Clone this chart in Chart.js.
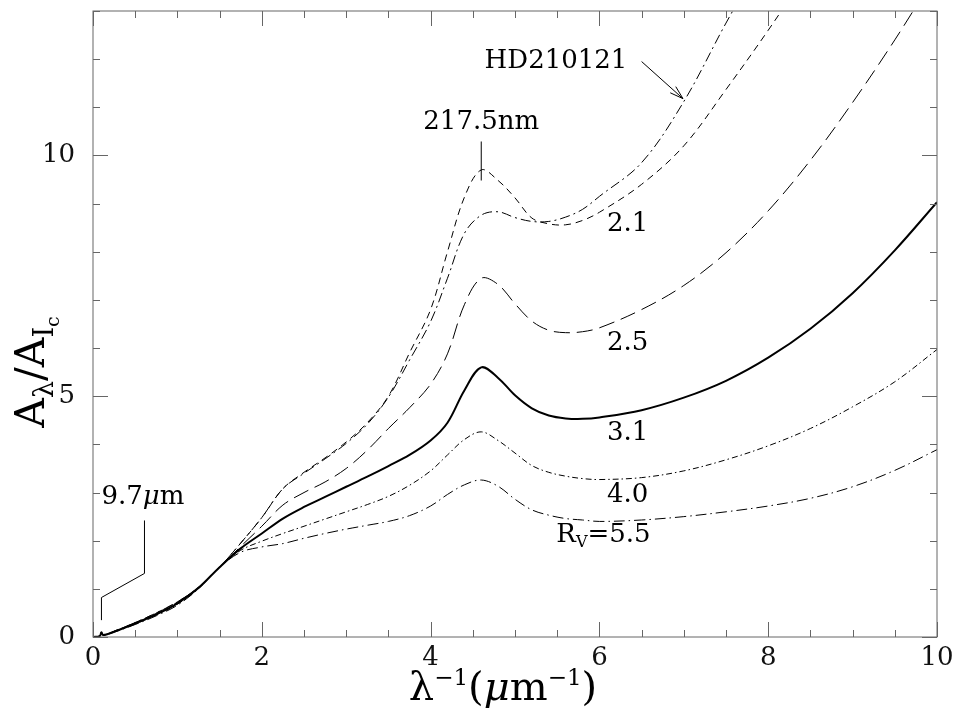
<!DOCTYPE html>
<html>
<head>
<meta charset="utf-8">
<script src="https://cdn.jsdelivr.net/npm/chart.js@4.4.0/dist/chart.umd.min.js"></script>
<style>
  html, body { margin: 0; padding: 0; background: #fff; }
</style>
</head>
<body>
<canvas id="extChart" width="960" height="718"></canvas>
<script>
// inverse wavelength, 1/um
const invLambda = [0, 0.08, 0.1, 0.12, 0.25, 0.5, 0.75, 1.0, 1.25, 1.5,
    1.75, 2.0, 2.25, 2.5, 2.75, 3.0, 3.25, 3.5, 3.75, 4.0,
    4.2, 4.4, 4.6, 4.8, 5.0, 5.2, 5.4, 5.6, 5.8, 6.0,
    6.5, 7.0, 7.5, 8.0, 8.5, 9.0, 9.5, 10.0];

// A_lambda / A_Ic
const rv21 = [0, 0.02, 0.10, 0.04, 0.12, 0.30, 0.50, 0.73, 1.03, 1.45,
    1.95, 2.48, 3.08, 3.42, 3.72, 4.05, 4.45, 5.00, 5.90, 6.80,
    8.00, 9.13, 9.70, 9.48, 9.12, 8.70, 8.58, 8.56, 8.65, 8.82,
    9.40, 10.20, 11.37, 12.60, 13.90, null, null, null];
const rv25 = [0, 0.02, 0.10, 0.04, 0.11, 0.29, 0.49, 0.72, 1.03, 1.45,
    1.88, 2.30, 2.74, 3.00, 3.22, 3.50, 3.88, 4.33, 4.76, 5.25,
    5.88, 6.90, 7.45, 7.32, 6.92, 6.56, 6.37, 6.32, 6.34, 6.42,
    6.80, 7.30, 7.98, 8.85, 9.90, 11.10, 12.40, 13.80];
const rv31 = [0, 0.02, 0.10, 0.04, 0.11, 0.28, 0.47, 0.70, 1.02, 1.45,
    1.84, 2.15, 2.46, 2.70, 2.91, 3.12, 3.33, 3.55, 3.78, 4.08,
    4.45, 5.12, 5.60, 5.38, 5.02, 4.75, 4.60, 4.54, 4.53, 4.56,
    4.71, 4.97, 5.32, 5.80, 6.40, 7.14, 8.03, 9.03];
const rv40 = [0, 0.02, 0.10, 0.04, 0.11, 0.27, 0.46, 0.68, 1.01, 1.45,
    1.80, 1.99, 2.15, 2.30, 2.45, 2.60, 2.75, 2.92, 3.15, 3.45,
    3.78, 4.10, 4.26, 4.08, 3.82, 3.56, 3.42, 3.34, 3.29, 3.27,
    3.31, 3.45, 3.68, 3.97, 4.33, 4.78, 5.30, 5.97];
const rv55 = [0, 0.02, 0.10, 0.04, 0.10, 0.26, 0.44, 0.66, 1.00, 1.45,
    1.76, 1.87, 1.94, 2.05, 2.15, 2.24, 2.32, 2.40, 2.52, 2.72,
    2.96, 3.16, 3.26, 3.13, 2.86, 2.64, 2.53, 2.46, 2.43, 2.40,
    2.43, 2.50, 2.60, 2.72, 2.88, 3.12, 3.46, 3.89];
const hd210121 = [0, 0.02, 0.10, 0.04, 0.12, 0.30, 0.50, 0.73, 1.03, 1.45,
    1.95, 2.48, 3.08, 3.40, 3.70, 4.02, 4.42, 4.98, 5.75, 6.55,
    7.45, 8.38, 8.76, 8.83, 8.71, 8.63, 8.63, 8.72, 8.88, 9.15,
    9.85, 11.12, 12.75, 14.30, null, null, null, null];

const xTickValues = [0, 2, 4, 6, 8, 10];
const yTickValues = [0, 5, 10];

const FONT = '"DejaVu Serif", serif';

function serie(data, dash, width) {
    return {
        data: invLambda.map((x, i) => ({ x: x, y: data[i] })),
        borderColor: '#000',
        borderWidth: width || 1,
        borderDash: dash,
        pointRadius: 0,
        fill: false,
        spanGaps: false,
        tension: 0.35
    };
}

// draw a run of text pieces: [text, size, dy, italic]
function drawParts(ctx, parts, x, y, align) {
    let w = 0;
    parts.forEach(p => {
        ctx.font = (p[3] ? 'italic ' : '') + p[1] + 'px ' + FONT;
        w += ctx.measureText(p[0]).width;
    });
    let cx = align === 'center' ? x - w / 2 : x;
    parts.forEach(p => {
        ctx.font = (p[3] ? 'italic ' : '') + p[1] + 'px ' + FONT;
        ctx.fillText(p[0], cx, y + p[2]);
        cx += ctx.measureText(p[0]).width;
    });
}

const decorPlugin = {
    id: 'decor',
    afterDraw(chart) {
        const ctx = chart.ctx;
        const { left, right, top, bottom } = chart.chartArea;
        const xs = chart.scales.x, ys = chart.scales.y;
        const X = v => xs.getPixelForValue(v);
        const Y = v => ys.getPixelForValue(v);

        ctx.save();
        // frame + inward ticks on all four sides
        ctx.strokeStyle = '#666';
        ctx.lineWidth = 1;
        ctx.strokeRect(left, top, right - left, bottom - top);
        ctx.beginPath();
        for (let i = 0; i <= 20; i++) {
            const px = Math.round(X(i * 0.5)) + 0.5;
            const len = i % 4 === 0 ? 15 : 7;
            ctx.moveTo(px, bottom); ctx.lineTo(px, bottom - len);
            ctx.moveTo(px, top); ctx.lineTo(px, top + len);
        }
        for (let j = 0; j <= 13; j++) {
            const py = Math.round(Y(j)) + 0.5;
            const len = j % 5 === 0 ? 15 : 7;
            ctx.moveTo(left, py); ctx.lineTo(left + len, py);
            ctx.moveTo(right, py); ctx.lineTo(right - len, py);
        }
        ctx.stroke();

        // pointer lines
        ctx.strokeStyle = '#000';
        ctx.beginPath();
        ctx.moveTo(X(4.6), Y(10.29)); ctx.lineTo(X(4.6), Y(9.48));
        ctx.moveTo(X(0.61), Y(2.42)); ctx.lineTo(X(0.61), Y(1.32));
        ctx.lineTo(X(0.10), Y(0.82)); ctx.lineTo(X(0.10), Y(0.35));
        // arrow to HD210121
        const ax0 = X(6.50), ay0 = Y(11.95), ax1 = X(6.99), ay1 = Y(11.18);
        ctx.moveTo(ax0, ay0); ctx.lineTo(ax1, ay1);
        const ang = Math.atan2(ay1 - ay0, ax1 - ax0);
        [0.3, -0.3].forEach(d => {
            ctx.moveTo(ax1, ay1);
            ctx.lineTo(ax1 - 14 * Math.cos(ang + d), ay1 - 14 * Math.sin(ang + d));
        });
        ctx.stroke();

        // labels
        ctx.fillStyle = '#000';
        ctx.textBaseline = 'middle';
        ctx.textAlign = 'left';
        drawParts(ctx, [['HD210121', 26, 0]], X(4.64), Y(11.95));
        drawParts(ctx, [['217.5nm', 26, 0]], X(4.6), Y(10.68), 'center');
        drawParts(ctx, [['2.1', 26, 0]], X(6.09), Y(8.57));
        drawParts(ctx, [['2.5', 26, 0]], X(6.09), Y(6.10));
        drawParts(ctx, [['3.1', 26, 0]], X(6.09), Y(4.23));
        drawParts(ctx, [['4.0', 26, 0]], X(6.09), Y(2.95));
        drawParts(ctx, [['R', 26, 0], ['V', 16, 8], ['=5.5', 26, 0]], X(5.49), Y(2.12));
        drawParts(ctx, [['9.7', 26, 0], ['μ', 26, 0, true], ['m', 26, 0]], X(0.1), Y(2.90));

        // axis titles
        ctx.textBaseline = 'alphabetic';
        drawParts(ctx, [['λ', 40, 0], ['−1', 23, -15], ['(', 40, 0], ['μ', 40, 0, true],
            ['m', 40, 0], ['−1', 23, -15], [')', 40, 0]], 503, 700, 'center');
        ctx.translate(44, 372);
        ctx.rotate(-Math.PI / 2);
        drawParts(ctx, [['A', 41, 0], ['λ', 27, 9], ['/', 41, 0], ['A', 41, 0],
            ['I', 27, 9], ['c', 19, 15]], 0, 0, 'center');
        ctx.restore();
    }
};

const ctx = document.getElementById('extChart').getContext('2d');
const extChart = new Chart(ctx, {
    type: 'line',
    data: {
        datasets: [
            serie(rv21, [7, 5]),
            serie(hd210121, [10, 4, 2, 4]),
            serie(rv25, [16, 7]),
            serie(rv31, [], 2),
            serie(rv40, [6, 3, 1.5, 3]),
            serie(rv55, [11, 4, 1.5, 4])
        ]
    },
    options: {
        responsive: false,
        animation: false,
        layout: { padding: { left: 0, right: 23, top: 11, bottom: 0 } },
        plugins: { legend: { display: false }, tooltip: { enabled: false } },
        scales: {
            x: {
                type: 'linear', min: 0, max: 10,
                grid: { display: false, drawTicks: false },
                border: { display: false },
                ticks: { color: '#111', padding: 6, maxRotation: 0, font: { family: FONT, size: 26 } },
                afterBuildTicks: s => { s.ticks = xTickValues.map(v => ({ value: v })); },
                afterFit: s => { s.height = 81; s.paddingLeft = 0; s.paddingRight = 0; }
            },
            y: {
                type: 'linear', min: 0, max: 13,
                grid: { display: false, drawTicks: false },
                border: { display: false },
                ticks: { color: '#111', padding: 18, font: { family: FONT, size: 26 } },
                afterBuildTicks: s => { s.ticks = yTickValues.map(v => ({ value: v })); },
                afterFit: s => { s.width = 93; s.paddingTop = 0; s.paddingBottom = 0; }
            }
        }
    },
    plugins: [decorPlugin]
});
</script>
</body>
</html>
